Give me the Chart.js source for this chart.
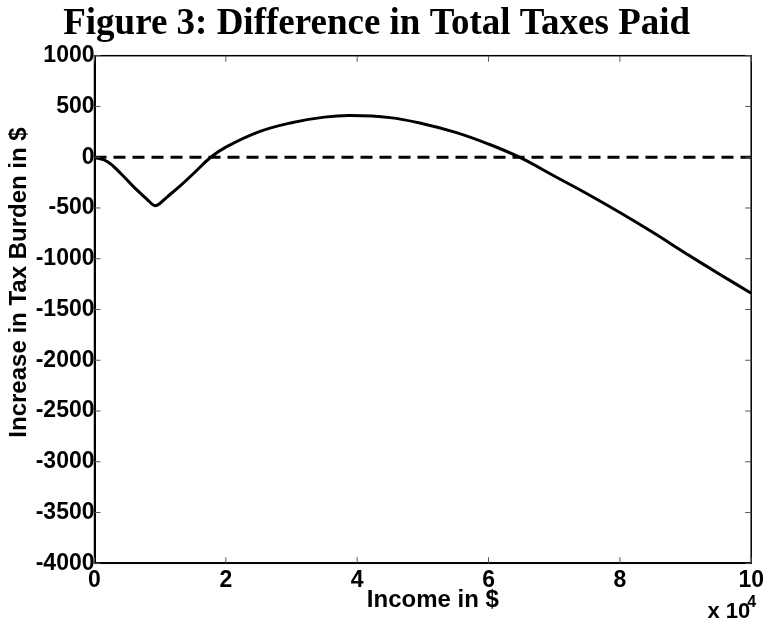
<!DOCTYPE html>
<html>
<head>
<meta charset="utf-8">
<script src="https://cdn.jsdelivr.net/npm/chart.js@4/dist/chart.umd.min.js"></script>
<style>
  html, body { margin: 0; padding: 0; background: #fff; }
  #wrap { width: 768px; height: 620px; }
</style>
</head>
<body>
<div id="wrap"><canvas id="chart1"></canvas></div>
<script>
// income in units of 10^4 $
const incomeK = [0, 0.2, 0.4, 0.6, 0.8, 0.87, 0.93, 0.99, 1.1, 1.3, 1.5, 1.77, 2.0, 2.5, 3.0, 3.5, 3.9, 4.5, 5.0, 5.5, 6.0, 6.47, 7.0, 7.5, 8.0, 8.5, 9.0, 9.5, 10]
const taxDiff = [0, -45, -160, -295, -415, -458, -477, -458, -395, -285, -165, 0, 100, 250, 340, 395, 410, 390, 330, 245, 130, 0, -185, -360, -545, -740, -945, -1145, -1340]
const zeroX = [0, 10]
const zeroY = [0, 0]

const xTicks = [0, 2, 4, 6, 8, 10]
const yTicks = [1000, 500, 0, -500, -1000, -1500, -2000, -2500, -3000, -3500, -4000]

const tickFont = { family: 'Liberation Sans, Arial, sans-serif', size: 23, weight: 'bold' }

// matlab-like box with inward ticks, axis titles and exponent
const matlabBox = {
    id: 'matlabBox',
    afterDraw(chart) {
        const { ctx, chartArea: a, scales: { x, y } } = chart
        ctx.save()
        ctx.strokeStyle = '#000'
        ctx.lineWidth = 1.5
        ctx.strokeRect(a.left, a.top, a.right - a.left, a.bottom - a.top)

        ctx.lineWidth = 1
        ctx.strokeStyle = '#555'
        ctx.beginPath()
        xTicks.forEach(v => {
            const px = x.getPixelForValue(v)
            ctx.moveTo(px, a.bottom); ctx.lineTo(px, a.bottom - 6)
            ctx.moveTo(px, a.top); ctx.lineTo(px, a.top + 6)
        })
        yTicks.forEach(v => {
            const py = y.getPixelForValue(v)
            ctx.moveTo(a.left, py); ctx.lineTo(a.left + 6, py)
            ctx.moveTo(a.right, py); ctx.lineTo(a.right - 6, py)
        })
        ctx.stroke()

        ctx.fillStyle = '#000'
        ctx.font = 'bold 24px Liberation Sans, Arial, sans-serif'
        ctx.textBaseline = 'middle'
        ctx.textAlign = 'center'
        ctx.fillText('Income in $', (a.left + a.right) / 2 + 10, 600)

        ctx.save()
        ctx.translate(19, (a.top + a.bottom) / 2 - 27)
        ctx.rotate(-Math.PI / 2)
        ctx.fillText('Increase in Tax Burden in $', 0, 0)
        ctx.restore()

        ctx.font = 'bold 22px Liberation Sans, Arial, sans-serif'
        ctx.textBaseline = 'alphabetic'
        ctx.textAlign = 'right'
        ctx.fillText('x 10', a.right - 1, 618)
        ctx.font = 'bold 16px Liberation Sans, Arial, sans-serif'
        ctx.textAlign = 'left'
        ctx.fillText('4', a.right - 4, 607)
        ctx.restore()
    }
}

const data = {
    datasets: [
        {
            data: incomeK.map((v, i) => ({ x: v, y: taxDiff[i] })),
            borderColor: '#000',
            borderWidth: 3,
            pointRadius: 0,
            tension: 0.4,
            fill: false
        },
        {
            data: zeroX.map((v, i) => ({ x: v, y: zeroY[i] })),
            borderColor: '#000',
            borderWidth: 3,
            borderDash: [12, 7],
            pointRadius: 0,
            fill: false
        }
    ]
}

const options = {
    responsive: true,
    maintainAspectRatio: false,
    animation: false,
    layout: { padding: { left: 0, right: 14.7, top: 0, bottom: 0 } },
    plugins: {
        legend: { display: false },
        tooltip: { enabled: false },
        title: {
            display: true,
            text: 'Figure 3: Difference in Total Taxes Paid',
            color: '#000',
            font: { family: 'Liberation Serif, Times New Roman, serif', size: 37, weight: 'bold', lineHeight: 1.2 },
            padding: { top: 2, bottom: 9.3 }
        }
    },
    scales: {
        x: {
            type: 'linear',
            min: 0,
            max: 10,
            grid: { display: false, drawTicks: false },
            border: { display: true, color: '#000', width: 2 },
            ticks: { stepSize: 2, color: '#000', font: tickFont, padding: 4, maxRotation: 0, callback: v => String(v) },
            afterFit: s => { s.height = 56.7 }
        },
        y: {
            type: 'linear',
            min: -4000,
            max: 1000,
            grid: { display: false, drawTicks: false },
            border: { display: true, color: '#000', width: 2 },
            ticks: { stepSize: 500, color: '#000', font: tickFont, padding: 0, callback: v => String(v) },
            afterFit: s => { s.width = 94.5 }
        }
    }
}

new Chart('chart1', { type: 'line', data, options, plugins: [matlabBox] })
</script>
</body>
</html>
